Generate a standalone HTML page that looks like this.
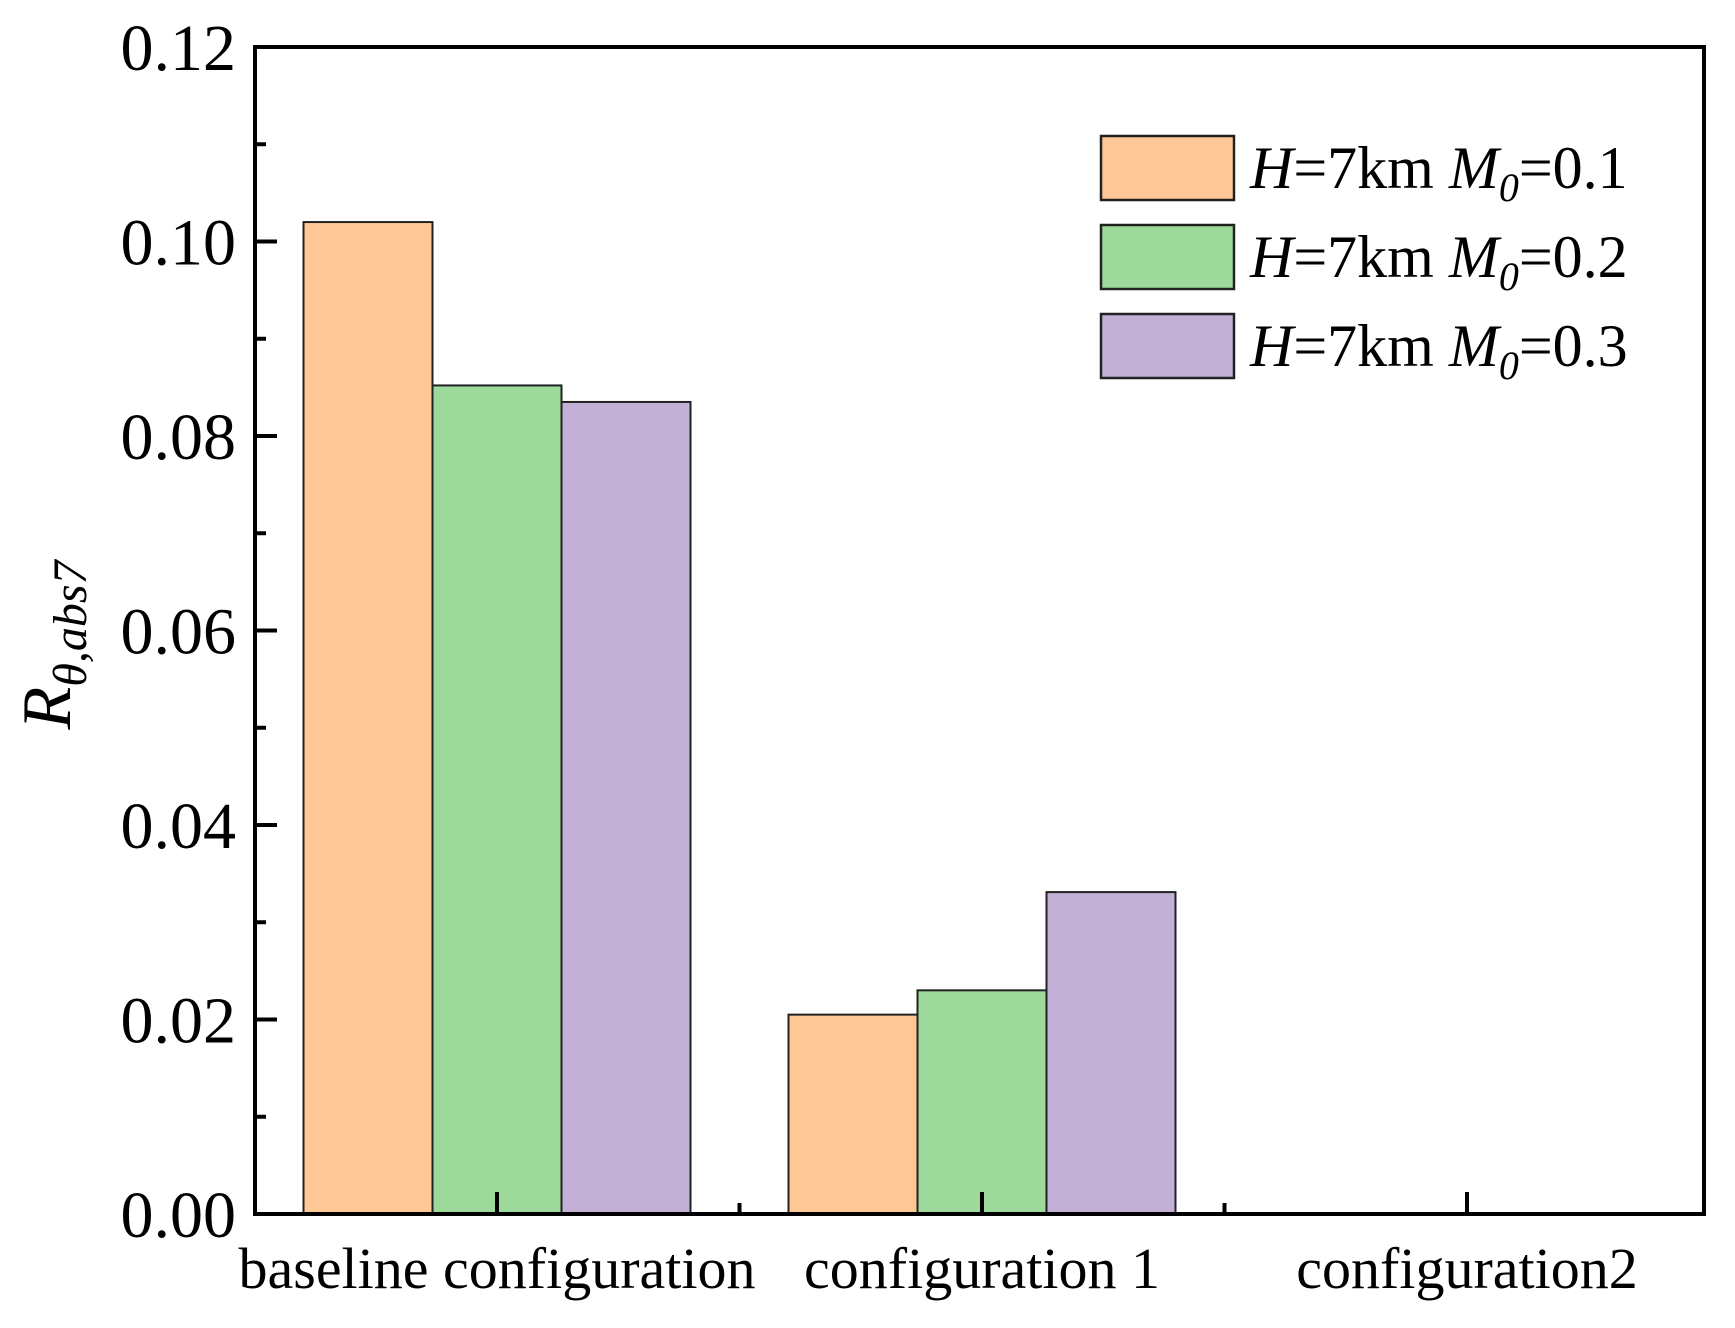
<!DOCTYPE html>
<html><head><meta charset="utf-8"><style>
html,body{margin:0;padding:0;background:#fff;}
svg{display:block;font-family:"Liberation Serif",serif;}
</style></head><body>
<svg id="chart" width="1735" height="1328" viewBox="0 0 1735 1328">
<g id="bars"></g>
<g id="axes"></g>
<g id="legend"></g>
<text transform="translate(70,645) rotate(-90)" text-anchor="middle" font-size="70" font-style="italic">R<tspan font-size="48" dy="16">θ,abs7</tspan></text>
</svg>
<script>
const categories = ["baseline configuration", "configuration 1", "configuration2"];
const seriesNames = ["0.1", "0.2", "0.3"];
const s1 = [0.102, 0.0205, 0];
const s2 = [0.0852, 0.0230, 0];
const s3 = [0.0835, 0.0331, 0];
const yTicks = [0, 0.02, 0.04, 0.06, 0.08, 0.10, 0.12];
const yTickLabels = ["0.00", "0.02", "0.04", "0.06", "0.08", "0.10", "0.12"];

const NS = "http://www.w3.org/2000/svg";
const L = 255, R = 1704, T = 47, B = 1214;
const colors = ["#fdc896", "#9dd99a", "#c2b0d6"];
const y = v => B - (v / 0.12) * (B - T);
const groupW = 485, c0 = 497, bw = 129;
const x = i => c0 + i * groupW;
function mk(tag, attrs, parent) {
  const e = document.createElementNS(NS, tag);
  for (const k in attrs) e.setAttribute(k, attrs[k]);
  parent.appendChild(e); return e;
}
const bars = document.getElementById("bars");
const axes = document.getElementById("axes");
const legend = document.getElementById("legend");
const series = [s1, s2, s3];
series.forEach((s, si) => {
  s.forEach((v, ci) => {
    if (v <= 0) return;
    const bx = x(ci) - 1.5 * bw + si * bw;
    const r = mk("rect", {x: bx, y: y(v), width: bw, height: B - y(v), fill: colors[si], stroke: "#222", "stroke-width": 2}, bars);
    
    
  });
});
const fr = mk("rect", {x: L, y: T, width: R - L, height: B - T, fill: "none", stroke: "#000", "stroke-width": 4}, axes);


yTicks.forEach((v, i) => {
  mk("line", {x1: L, x2: L + 22, y1: y(v), y2: y(v), stroke: "#000", "stroke-width": 4}, axes);
  if (i < yTicks.length - 1) {
    const m = (v + yTicks[i + 1]) / 2;
    mk("line", {x1: L, x2: L + 11, y1: y(m), y2: y(m), stroke: "#000", "stroke-width": 4}, axes);
  }
  const t = mk("text", {x: 236, y: y(v) + 23, "text-anchor": "end", "font-size": 66}, axes);
  t.textContent = yTickLabels[i];
  
  
});
categories.forEach((c, i) => {
  mk("line", {x1: x(i), x2: x(i), y1: B, y2: B - 22, stroke: "#000", "stroke-width": 4}, axes);
  if (i < categories.length - 1) {
    mk("line", {x1: x(i) + groupW / 2, x2: x(i) + groupW / 2, y1: B, y2: B - 11, stroke: "#000", "stroke-width": 4}, axes);
  }
  const t = mk("text", {x: x(i), y: 1288, "text-anchor": "middle", "font-size": 58}, axes);
  t.textContent = c;
  
  
});
seriesNames.forEach((n, i) => {
  const ly = 136 + i * 89;
  const r = mk("rect", {x: 1101, y: ly, width: 133, height: 64, fill: colors[i], stroke: "#222", "stroke-width": 2.5}, legend);
  
  
  const t = mk("text", {x: 1250, y: ly + 52, "font-size": 60}, legend);
  t.innerHTML = '<tspan font-style="italic">H</tspan>=7km <tspan font-style="italic">M</tspan><tspan font-style="italic" font-size="40" dy="13">0</tspan><tspan dy="-13">=' + n + '</tspan>';
  
  
});
</script>
</body></html>
